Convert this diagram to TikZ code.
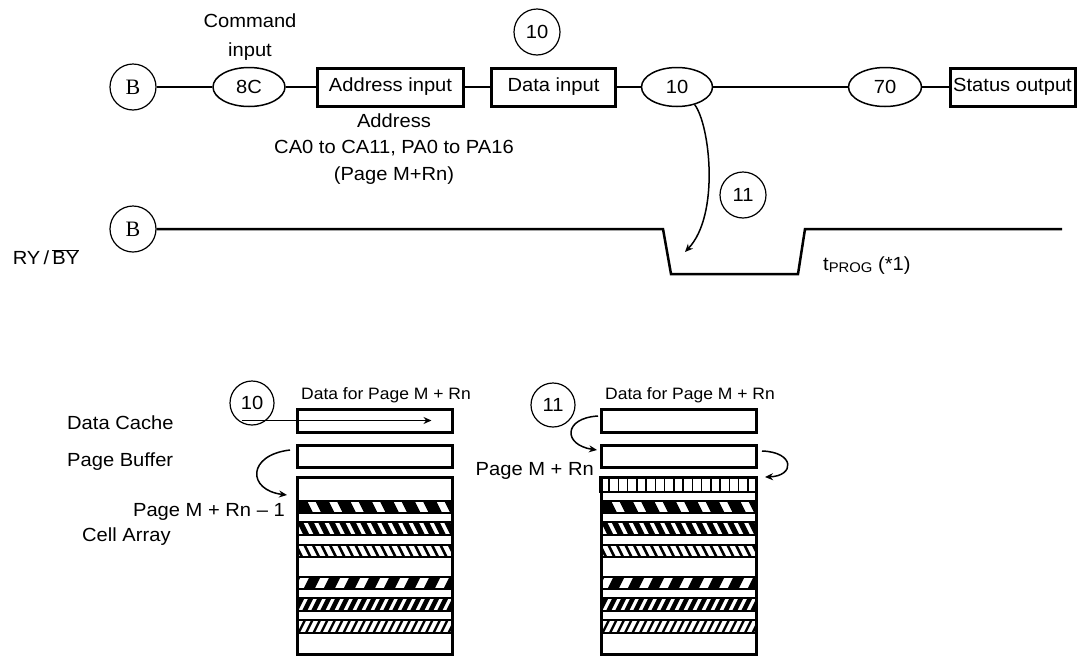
\documentclass[tikz,border=0pt]{standalone}
\usepackage{fontspec}
\setmainfont{Liberation Sans}[FakeStretch=1.06]
\newfontfamily\serifB{Liberation Serif}
\usetikzlibrary{shapes.geometric,arrows.meta}

\begin{document}
\begin{tikzpicture}[x=1pt,y=-1pt,>={Stealth[length=8pt,width=7pt]},
    font=\fontsize{19}{22}\selectfont,
    every node/.style={inner sep=0pt},
    conn/.style={line width=2.2pt},
    refcirc/.style={circle,draw,line width=1.2pt,minimum size=46pt},
    bcirc/.style={refcirc,font=\serifB\fontsize{22}{24}\selectfont},
    cmdell/.style={ellipse,draw,line width=1.5pt,minimum width=72pt,minimum height=39pt},
    stepbox/.style={rectangle,draw,line width=3pt,minimum height=38pt},
    regbox/.style={rectangle,draw,line width=3pt,minimum width=155pt},
    smalltext/.style={font=\fontsize{16.5}{20}\selectfont},
    flow/.style={->,line width=1.5pt}]
  \useasboundingbox (0,0) rectangle (1078,659);

  % command sequence
  \node[bcirc] (b1) at (133,87) {B};
  \node[cmdell] (c8c) at (249,87) {8C};
  \node[stepbox,minimum width=146pt] (addr) at (390.5,87) {Address input};
  \node[stepbox,minimum width=124pt] (din) at (553.5,87) {Data input};
  \node[cmdell,minimum width=71pt] (c10) at (677,87) {10};
  \node[cmdell,minimum width=73pt] (c70) at (885,87) {70};
  \node[stepbox,minimum width=125pt] (stat) at (1012.5,87) {Status output};
  \draw[conn] (b1) -- (c8c) -- (addr) -- (din) -- (c10) -- (c70) -- (stat);

  \node[align=center,font=\fontsize{19}{29}\selectfont] (cmdlbl) at (250,37) {Command\\input};
  \node[refcirc] (n10) at (537,32) {10};
  \node[align=center,font=\fontsize{19}{26.5}\selectfont] (addrlbl) at (394,149)
    {Address\\CA0 to CA11, PA0 to PA16\\(Page M+Rn)};

  % busy signal
  \node (rybylbl) at (46,257) {RY\,/\,\(\overline{\mbox{BY}}\)};
  \node[bcirc] (b2) at (133,229) {B};
  \draw[line width=2.5pt] (b2.east) -- (663,229) -- (671,274) -- (798,274) -- (805,229) -- (1062,229);
  \node[refcirc] (n11) at (743,195) {11};
  \coordinate (progend) at (685,252);
  \draw[flow] (c10.-45) .. controls (710,125) and (720,215) .. (progend);
  \node[anchor=west] (tprog) at (823,266) {t\raisebox{-2pt}{\fontsize{14}{14}\selectfont PROG} (*1)};

  % registers, step 10
  \node[anchor=west] (dclbl) at (67,423) {Data Cache};
  \node[anchor=west] (pblbl) at (67,462) {Page Buffer};
  \node[anchor=east] (pm1lbl) at (285,512) {Page M + Rn – 1};
  \node[anchor=west] (calbl) at (82,537) {Cell Array};
  \node[regbox,minimum height=23pt] (dc1) at (374.5,420.5) {};
  \node[regbox,minimum height=22pt] (pb1) at (374.5,456) {};
  \node[smalltext] (dl1) at (386,395) {Data for Page M + Rn};
  \node[refcirc,minimum size=44pt] (s10) at (252,403) {10};
  \draw[flow] (s10.-115 |- dc1.center) -- ([xshift=-22pt]dc1.east);
  \coordinate (pbout) at (290,450);
  \coordinate (cain) at (287,495);
  \draw[flow] (pbout) .. controls (247,455) and (247,490) .. (cain);

  % registers, step 11
  \node[anchor=east] (pmlbl) at (594,471) {Page M + Rn};
  \node[regbox,minimum height=23pt] (dc2) at (678.5,420.5) {};
  \node[regbox,minimum height=22pt] (pb2) at (678.5,456) {};
  \node[smalltext] (dl2) at (690,395) {Data for Page M + Rn};
  \node[refcirc,minimum size=44pt] (s11) at (553,405) {11};
  \coordinate (dcout) at (598,416);
  \coordinate (pbin) at (597,450);
  \draw[flow] (dcout) .. controls (563,418) and (563,445) .. (pbin);
  \coordinate (pbout2) at (762,451);
  \coordinate (pmin) at (765,477);
  \draw[flow] (pbout2) .. controls (795,452) and (795,476) .. (pmin);

  % cell arrays
  \foreach \ax in {297,601}{
    \foreach \ya/\yb/\sp/\lw/\dir in {501/513/21.5/12/1,522/535/10.5/5.5/1,545/557/8.5/2.6/1,
                                     577/589/20/10/-1,598/611/9/4.5/-1,620/633/7.5/2.3/-1}{
      \begin{scope}
        \clip (\ax,\ya) rectangle (\ax+155,\yb);
        \foreach \i in {0,...,26}
          \draw[line width=\lw pt] (\ax-20+\i*\sp,\ya-4) -- ++({\dir*(0.5*(\yb-\ya)+4)},{\yb-\ya+8});
      \end{scope}
      \draw[line width=2.5pt] (\ax,\ya) rectangle (\ax+155,\yb);
    }
    \draw[line width=3pt] (\ax,477) rectangle (\ax+155,654);
  }
  \draw[line width=2.5pt] (600,477) rectangle (757,492);
  \foreach \i in {1,...,16}
    \draw[line width=1.5pt] (600+\i*9.24,477) -- (600+\i*9.24,492);
\end{tikzpicture}
\end{document}
